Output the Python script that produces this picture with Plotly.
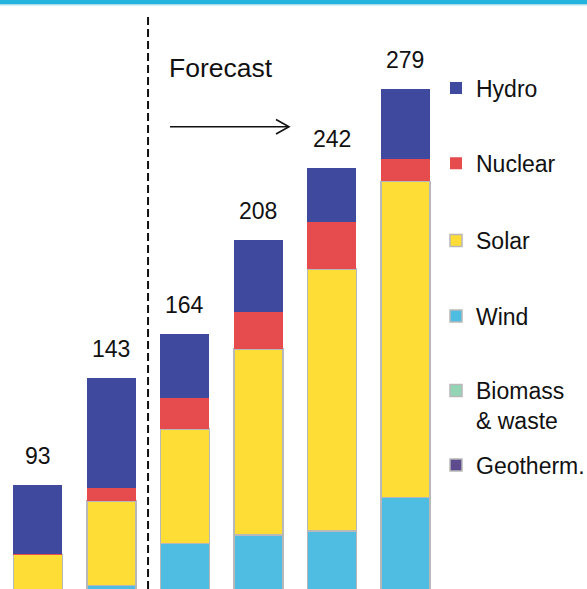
import plotly.graph_objects as go

W, H = 587, 589

categories = [0, 1, 2, 3, 4, 5]
totals = [93, 143, 164, 208, 242, 279]
hydro = [32.5, 51.5, 30.4, 33.7, 25.4, 33.0]
nuclear = [0.3, 6.1, 14.4, 17.5, 22.2, 10.4]
solar = [42.2, 39.8, 53.7, 87.4, 123.0, 148.5]
wind = [14.0, 40.5, 59.5, 63.4, 65.4, 81.1]
biomass = [3.5, 4.5, 5.0, 5.0, 5.0, 5.0]
geotherm = [0.5, 0.6, 1.0, 1.0, 1.0, 1.0]

series_names = ["Geotherm.", "Biomass<br>& waste", "Wind", "Solar", "Nuclear", "Hydro"]
series_values = [geotherm, biomass, wind, solar, nuclear, hydro]
series_colors = ["#5E4B8E", "#93D4B4", "#4FBDE2", "#FDDD36", "#E64C4E", "#3F4A9E"]
series_lines = [1.5, 1.5, 1.5, 1.5, 0, 0]
legend_ids = ["legend6", "legend5", "legend4", "legend3", "legend2", "legend"]
legend_centers = [465, 405.5, 316.0, 240.5, 163.3, 88.0]

LABEL_FONT = "Liberation Sans, Arial, Helvetica, sans-serif"

fig = go.Figure()
for name, vals, col, lw, lid in zip(series_names, series_values, series_colors, series_lines, legend_ids):
    fig.add_trace(go.Bar(
        x=categories, y=vals, name=name, legend=lid,
        marker=dict(color=col, line=dict(color="#B8B8B8", width=lw)),
        width=0.667, hoverinfo="skip",
    ))

# px -> paper helpers
def px(x):
    return x / W

def py(y):
    return 1 - y / H

legend_common = dict(
    x=px(436), xanchor="left", yanchor="middle", valign="top",
    font=dict(family=LABEL_FONT, size=23, color="#111111"),
    bgcolor="rgba(0,0,0,0)", itemclick=False,
)
layout_legends = {}
for lid, yc in zip(legend_ids, legend_centers):
    layout_legends[lid] = dict(legend_common, y=py(yc))

annotations = []
for c, t in zip(categories, totals):
    annotations.append(dict(
        x=c, y=t, xref="x", yref="y", text=str(t), showarrow=False,
        yanchor="bottom", yshift=14,
        font=dict(family=LABEL_FONT, size=23, color="#111111"),
    ))
annotations.append(dict(
    x=px(167), y=py(68), xref="paper", yref="paper", text="Forecast",
    showarrow=False, xanchor="left", yanchor="middle",
    font=dict(family=LABEL_FONT, size=26.5, color="#111111"),
))

shapes = [
    # top teal band
    dict(type="rect", xref="paper", yref="paper", x0=0, x1=1, y0=py(4), y1=1,
         fillcolor="#23B4DE", line=dict(width=0)),
    dict(type="rect", xref="paper", yref="paper", x0=0, x1=1, y0=py(5.5), y1=py(4),
         fillcolor="#A9DDEE", line=dict(width=0)),
    # forecast divider
    dict(type="line", xref="x", yref="paper", x0=1.5, x1=1.5, y0=0, y1=py(17),
         line=dict(color="#111111", width=2, dash="8px,4px")),
    # arrow
    dict(type="line", xref="paper", yref="paper", x0=px(170), x1=px(288), y0=py(126.7), y1=py(126.7),
         line=dict(color="#111111", width=1.6)),
    dict(type="path", xref="paper", yref="paper",
         path=f"M {px(276)},{py(119.5)} L {px(289)},{py(126.7)} L {px(276)},{py(134)}",
         line=dict(color="#111111", width=1.6)),
]

fig.update_layout(
    width=W, height=H, barmode="stack",
    margin=dict(l=0, r=0, t=0, b=0, autoexpand=False),
    paper_bgcolor="white", plot_bgcolor="white",
    xaxis=dict(range=[-0.514, 7.472], visible=False, fixedrange=True),
    yaxis=dict(range=[44.03, 320.8], visible=False, fixedrange=True),
    showlegend=True,
    annotations=annotations, shapes=shapes,
    **layout_legends,
)

fig.write_html(
    "out.html",
    config={"displayModeBar": False},
    post_script="document.body.style.margin='0px';document.body.style.overflow='hidden';",
)
